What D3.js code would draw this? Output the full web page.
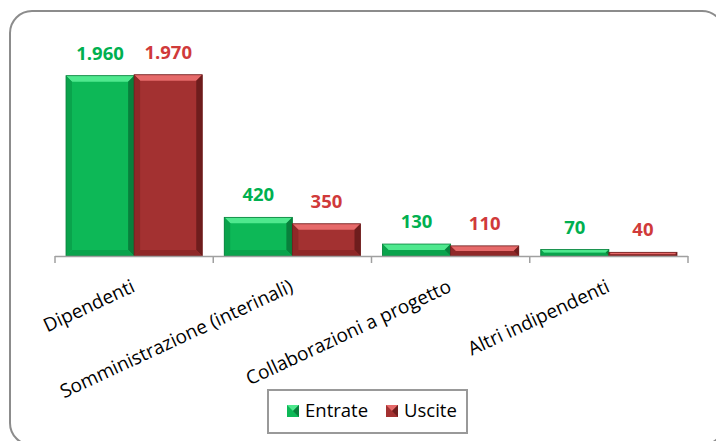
<!DOCTYPE html>
<html>
<head>
<meta charset="utf-8">
<script src="https://cdn.jsdelivr.net/npm/d3@7"></script>
<style>
  body { margin: 0; background: #fff; }
  svg { display: block; font-family: "Open Sans", sans-serif; }
</style>
</head>
<body>
<svg id="chart" width="716" height="441"></svg>
<script>
const categories = ["Dipendenti", "Somministrazione (interinali)", "Collaborazioni a progetto", "Altri indipendenti"];
const seriesNames = ["Entrate", "Uscite"];
const entrate = [1960, 420, 130, 70];
const uscite = [1970, 350, 110, 40];
const labelsEntrate = ["1.960", "420", "130", "70"];
const labelsUscite = ["1.970", "350", "110", "40"];

const width = 716, height = 441;
const svg = d3.select("#chart");

const colors = {
    "Entrate": {base: "#0db857", light: "#4fe88e", dark: "#08803c", side: "#0aa34c", text: "#00b050"},
    "Uscite":  {base: "#a33131", light: "#e66a6a", dark: "#6e1d1d", side: "#8f2828", text: "#d03a3a"}
};

// outer frame
svg.append("rect")
    .attr("x", 10).attr("y", 11)
    .attr("width", 714).attr("height", 434)
    .attr("rx", 22)
    .attr("fill", "#fff")
    .attr("stroke", "#8c8c8c")
    .attr("stroke-width", 2);

const x0 = d3.scaleBand().domain(categories).range([55, 688]).padding(0);
const x1 = d3.scaleBand().domain(seriesNames).range([11, x0.bandwidth() - 11]).padding(0);
const y = d3.scaleLinear().domain([0, 2500]).range([256, 26]);

const data = categories.map((c, i) => ({
    cat: c,
    values: [
        {series: "Entrate", value: entrate[i], label: labelsEntrate[i]},
        {series: "Uscite", value: uscite[i], label: labelsUscite[i]}
    ]
}));

// bars with a bevel look
const groups = svg.append("g")
    .selectAll("g")
    .data(data)
    .join("g")
    .attr("transform", d => "translate(" + x0(d.cat) + ",0)");

groups.each(function(d) {
    const g = d3.select(this);
    d.values.forEach(v => {
        const c = colors[v.series];
        const bx = x1(v.series), bw = x1.bandwidth();
        const by = y(v.value), bh = y(0) - y(v.value);
        const b = Math.min(6, bh / 2);
        g.append("rect")
            .attr("x", bx).attr("y", by).attr("width", bw).attr("height", bh)
            .attr("fill", c.base);
        // top bevel
        g.append("path")
            .attr("d", `M${bx},${by} L${bx + bw},${by} L${bx + bw - b},${by + b} L${bx + b},${by + b} Z`)
            .attr("fill", c.light);
        // left bevel
        g.append("path")
            .attr("d", `M${bx},${by} L${bx + b},${by + b} L${bx + b},${by + bh - b} L${bx},${by + bh} Z`)
            .attr("fill", c.side);
        // right bevel
        g.append("path")
            .attr("d", `M${bx + bw},${by} L${bx + bw - b},${by + b} L${bx + bw - b},${by + bh - b} L${bx + bw},${by + bh} Z`)
            .attr("fill", c.dark);
        // bottom bevel
        g.append("path")
            .attr("d", `M${bx},${by + bh} L${bx + b},${by + bh - b} L${bx + bw - b},${by + bh - b} L${bx + bw},${by + bh} Z`)
            .attr("fill", c.side);
        g.append("rect")
            .attr("x", bx).attr("y", by).attr("width", bw).attr("height", bh)
            .attr("fill", "none")
            .attr("stroke", c.dark).attr("stroke-width", 0.8);

        g.append("text")
            .attr("x", bx + bw / 2)
            .attr("y", by - 16)
            .attr("text-anchor", "middle")
            .attr("fill", c.text)
            .style("font-size", "18.5px")
            .style("font-weight", 700)
            .text(v.label);
    });
});

// category axis
const axis = svg.append("g");
axis.append("line")
    .attr("x1", x0.range()[0]).attr("x2", x0.range()[1])
    .attr("y1", y(0) + 0.5).attr("y2", y(0) + 0.5)
    .attr("stroke", "#a0a0a0").attr("stroke-width", 1.5);
const tickPos = categories.map(c => x0(c)).concat([x0.range()[1]]);
axis.selectAll("line.tick")
    .data(tickPos)
    .join("line")
    .attr("class", "tick")
    .attr("x1", d => d).attr("x2", d => d)
    .attr("y1", y(0)).attr("y2", y(0) + 7)
    .attr("stroke", "#a0a0a0").attr("stroke-width", 1.5);

axis.selectAll("text")
    .data(categories)
    .join("text")
    .attr("transform", d => "translate(" + (x0(d) + x0.bandwidth() / 2 + 2) + "," + 291 + ") rotate(-25)")
    .attr("text-anchor", "end")
    .attr("fill", "#000")
    .style("font-size", "19px")
    .text(d => d);

// legend
const legend = svg.append("g");
legend.append("rect")
    .attr("x", 268).attr("y", 390).attr("width", 199).attr("height", 43)
    .attr("fill", "#fff").attr("stroke", "#999").attr("stroke-width", 2);

const legendX = {"Entrate": 287, "Uscite": 386};
seriesNames.forEach(s => {
    const c = colors[s];
    const lx = legendX[s], ly = 405;
    const g = legend.append("g");
    g.append("rect").attr("x", lx).attr("y", ly).attr("width", 12).attr("height", 12).attr("fill", c.base);
    g.append("path").attr("d", `M${lx},${ly} L${lx + 12},${ly} L${lx + 6},${ly + 6} Z`).attr("fill", c.light);
    g.append("path").attr("d", `M${lx + 12},${ly} L${lx + 12},${ly + 12} L${lx + 6},${ly + 6} Z`).attr("fill", c.dark);
    g.append("text")
        .attr("x", lx + 18).attr("y", ly + 12)
        .attr("fill", "#000")
        .style("font-size", "18.5px")
        .text(s);
});
</script>
</body>
</html>
